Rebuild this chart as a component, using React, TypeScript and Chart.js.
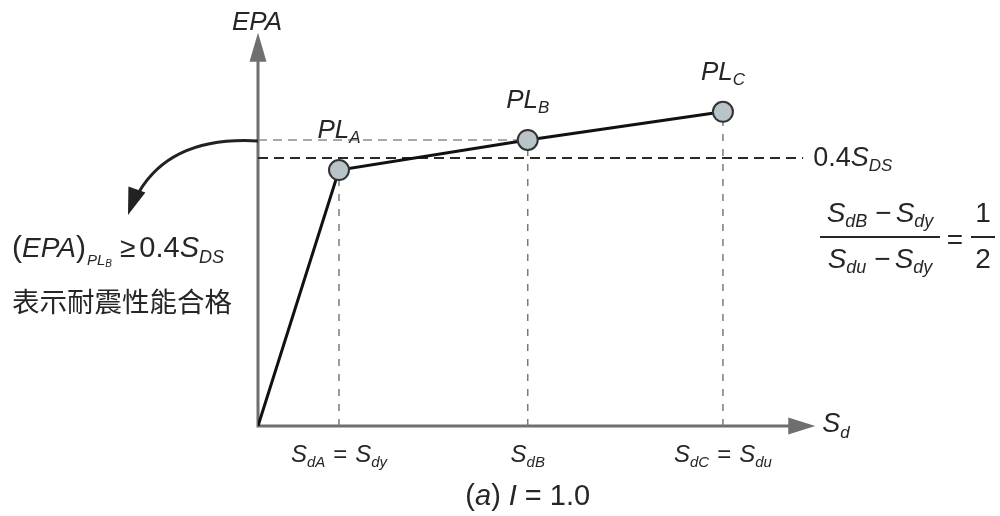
import React, { useEffect, useRef } from 'react';
import { Chart, registerables } from 'chart.js';

Chart.register(...registerables);

// ---------- data ----------
const SD_VALUES = [0, 1, 3.33, 5.74];          // spectral displacement (origin, PL_A, PL_B, PL_C)
const EPA_VALUES = [0, 0.382, 0.427, 0.469];   // EPA at each point
const PL_NAMES = ['', 'A', 'B', 'C'];          // performance level labels
const DS_LEVEL = 0.4;                          // 0.4 S_DS threshold
const DS_LINE_END = 6.73;
const X_AXIS_END = 6.88;
const Y_AXIS_END = 0.587;
const X_TICK_SUBS: (string | null)[][] = [['dA', 'dy'], ['dB', null], ['dC', 'du']];

const FONT = '"Liberation Sans", Arial, Helvetica, sans-serif';
const CJK = '"Noto Sans CJK TC", "Noto Sans CJK SC", sans-serif';
const TEXT = '#262626';

type Seg = { t: string; s: number; i?: boolean; dy?: number; g?: number; f?: string };

function fontOf(seg: Seg) {
  return `${seg.i ? 'italic ' : ''}${seg.s}px ${seg.f || FONT}`;
}

function richWidth(ctx: CanvasRenderingContext2D, segs: Seg[]) {
  let w = 0;
  for (const s of segs) {
    ctx.font = fontOf(s);
    w += (s.g || 0) + ctx.measureText(s.t).width;
  }
  return w;
}

function drawRich(ctx: CanvasRenderingContext2D, segs: Seg[], x: number, y: number, align: 'left' | 'center' = 'left') {
  const w = richWidth(ctx, segs);
  let cx = align === 'center' ? x - w / 2 : x;
  ctx.textAlign = 'left';
  ctx.textBaseline = 'alphabetic';
  for (const s of segs) {
    ctx.font = fontOf(s);
    cx += s.g || 0;
    ctx.fillText(s.t, cx, y + (s.dy || 0));
    cx += ctx.measureText(s.t).width;
  }
}

const diagramPlugin = {
  id: 'diagram',
  beforeDatasetsDraw(chart: any) {
    const { ctx, scales } = chart;
    const xs = scales.x, ys = scales.y;
    const x0 = xs.getPixelForValue(0);
    const y0 = ys.getPixelForValue(0);
    const yTop = ys.getPixelForValue(Y_AXIS_END);
    const xEnd = xs.getPixelForValue(X_AXIS_END);
    ctx.save();
    ctx.strokeStyle = '#6f6f6f';
    ctx.fillStyle = '#6f6f6f';
    ctx.lineWidth = 3;
    ctx.beginPath();
    ctx.moveTo(x0, y0 + 1.5);
    ctx.lineTo(x0, yTop + 24);
    ctx.moveTo(x0 - 1.5, y0);
    ctx.lineTo(xEnd - 22, y0);
    ctx.stroke();
    // arrow heads
    ctx.beginPath();
    ctx.moveTo(x0, yTop);
    ctx.lineTo(x0 - 8.5, yTop + 29);
    ctx.lineTo(x0 + 8.5, yTop + 29);
    ctx.closePath();
    ctx.fill();
    ctx.beginPath();
    ctx.moveTo(xEnd, y0);
    ctx.lineTo(xEnd - 27, y0 - 8.5);
    ctx.lineTo(xEnd - 27, y0 + 8.5);
    ctx.closePath();
    ctx.fill();
    ctx.restore();
  },
  afterDatasetsDraw(chart: any) {
    const { ctx, scales } = chart;
    const xs = scales.x, ys = scales.y;
    const x0 = xs.getPixelForValue(0);
    const y0 = ys.getPixelForValue(0);
    const yTop = ys.getPixelForValue(Y_AXIS_END);
    const xEnd = xs.getPixelForValue(X_AXIS_END);
    ctx.save();
    ctx.fillStyle = TEXT;

    // axis titles
    drawRich(ctx, [{ t: 'EPA', s: 26, i: true }], x0 - 1, yTop - 3, 'center');
    drawRich(ctx, [{ t: 'S', s: 27, i: true }, { t: 'd', s: 17, i: true, dy: 6 }], xEnd + 7, y0 + 6);

    // point labels
    for (let k = 1; k < SD_VALUES.length; k++) {
      const px = xs.getPixelForValue(SD_VALUES[k]);
      const py = ys.getPixelForValue(EPA_VALUES[k]);
      drawRich(ctx, [{ t: 'PL', s: 26, i: true }, { t: PL_NAMES[k], s: 17, i: true, dy: 5 }], px, py - 32, 'center');
    }

    // x tick labels
    X_TICK_SUBS.forEach((subs, k) => {
      const px = xs.getPixelForValue(SD_VALUES[k + 1]);
      const segs: Seg[] = [{ t: 'S', s: 24, i: true }, { t: subs[0] as string, s: 15, i: true, dy: 5 }];
      if (subs[1]) {
        segs.push({ t: '=', s: 24, g: 8 }, { t: 'S', s: 24, i: true, g: 8 }, { t: subs[1] as string, s: 15, i: true, dy: 5 });
      }
      drawRich(ctx, segs, px, y0 + 36, 'center');
    });

    // caption
    drawRich(ctx, [
      { t: '(', s: 29 }, { t: 'a', s: 29, i: true }, { t: ')', s: 29 },
      { t: 'I', s: 29, i: true, g: 8 }, { t: '=', s: 29, g: 8 }, { t: '1.0', s: 29, g: 8 },
    ], xs.getPixelForValue(SD_VALUES[2]), y0 + 79, 'center');

    // threshold label
    const yDs = ys.getPixelForValue(DS_LEVEL);
    const xDsEnd = xs.getPixelForValue(DS_LINE_END);
    drawRich(ctx, [{ t: '0.4', s: 27 }, { t: 'S', s: 27, i: true }, { t: 'DS', s: 17, i: true, dy: 5 }], xDsEnd + 10, yDs + 8);

    // ratio formula
    const fx = 880, bw = 120;
    drawRich(ctx, [
      { t: 'S', s: 28, i: true }, { t: 'dB', s: 18, i: true, dy: 5 },
      { t: '\u2212', s: 28, g: 8 }, { t: 'S', s: 28, i: true, g: 4 }, { t: 'dy', s: 18, i: true, dy: 5 },
    ], fx, 222, 'center');
    drawRich(ctx, [
      { t: 'S', s: 28, i: true }, { t: 'du', s: 18, i: true, dy: 5 },
      { t: '\u2212', s: 28, g: 8 }, { t: 'S', s: 28, i: true, g: 4 }, { t: 'dy', s: 18, i: true, dy: 5 },
    ], fx, 268, 'center');
    ctx.fillRect(fx - bw / 2, 236, bw, 2);
    drawRich(ctx, [{ t: '=', s: 28 }], 955, 249, 'center');
    drawRich(ctx, [{ t: '1', s: 28 }], 983, 222, 'center');
    ctx.fillRect(971, 236, 24, 2);
    drawRich(ctx, [{ t: '2', s: 28 }], 983, 268, 'center');

    // left statement
    drawRich(ctx, [
      { t: '(', s: 30 }, { t: 'EPA', s: 28, i: true }, { t: ')', s: 30 },
      { t: 'PL', s: 15, i: true, dy: 8, g: 1 }, { t: 'B', s: 10, i: true, dy: 10 },
      { t: '\u2265', s: 28, g: 8 }, { t: '0.4', s: 29, g: 4 }, { t: 'S', s: 29, i: true }, { t: 'DS', s: 18, i: true, dy: 6 },
    ], 12, 257);
    ctx.font = `27.5px ${CJK}`;
    ctx.fillText('表示耐震性能合格', 12, 312);

    // curved arrow from PL_B level
    const ySt = ys.getPixelForValue(EPA_VALUES[2]);
    ctx.strokeStyle = '#222';
    ctx.fillStyle = '#222';
    ctx.lineWidth = 3;
    ctx.beginPath();
    ctx.moveTo(x0, ySt + 1);
    ctx.quadraticCurveTo(x0 - 86, ySt - 4, x0 - 119, ySt + 52);
    ctx.stroke();
    const tip = { x: x0 - 130, y: ySt + 75 };
    const d = { x: -0.33, y: 0.944 };
    const p = { x: 0.944, y: 0.33 };
    const bx = tip.x - 27 * d.x, by = tip.y - 27 * d.y;
    ctx.beginPath();
    ctx.moveTo(tip.x, tip.y);
    ctx.lineTo(bx + 9 * p.x, by + 9 * p.y);
    ctx.lineTo(bx - 9 * p.x, by - 9 * p.y);
    ctx.closePath();
    ctx.fill();

    ctx.restore();
  },
};

export default function App() {
  const ref = useRef<HTMLCanvasElement>(null);
  useEffect(() => {
    if (!ref.current) return;
    const mainData = SD_VALUES.map((x, k) => ({ x, y: EPA_VALUES[k] }));
    const verticals = SD_VALUES.slice(1).map((x, k) => ({
      data: [{ x, y: 0 }, { x, y: EPA_VALUES[k + 1] }],
      showLine: true,
      borderColor: '#7a7a7a',
      borderWidth: 1.5,
      borderDash: [7, 8],
      pointRadius: 0,
    }));
    const chart = new Chart(ref.current, {
      type: 'scatter',
      data: {
        datasets: [
          {
            data: mainData,
            showLine: true,
            borderColor: '#111111',
            borderWidth: 3,
            pointRadius: SD_VALUES.map((_, k) => (k === 0 ? 0 : 10)),
            pointBackgroundColor: '#b8c4c9',
            pointBorderColor: '#333333',
            pointBorderWidth: 2,
          },
          {
            data: [{ x: 0, y: DS_LEVEL }, { x: DS_LINE_END, y: DS_LEVEL }],
            showLine: true,
            borderColor: '#2a2a2a',
            borderWidth: 2,
            borderDash: [10, 6],
            pointRadius: 0,
          },
          {
            data: [{ x: 0, y: EPA_VALUES[2] }, { x: SD_VALUES[2], y: EPA_VALUES[2] }],
            showLine: true,
            borderColor: '#8c8c8c',
            borderWidth: 1.5,
            borderDash: [9, 6],
            pointRadius: 0,
          },
          ...verticals,
        ] as any,
      },
      options: {
        animation: false,
        responsive: false,
        events: [],
        layout: { padding: { left: 258, right: 13, top: 24, bottom: 90 } },
        scales: {
          x: { type: 'linear', min: 0, max: 9, display: false },
          y: { type: 'linear', min: 0, max: 0.6, display: false },
        },
        plugins: { legend: { display: false }, tooltip: { enabled: false } },
      } as any,
      plugins: [diagramPlugin],
    });
    return () => chart.destroy();
  }, []);
  return (
    <div style={{ position: 'absolute', left: 0, top: 0, width: 1000, height: 516, background: '#fff' }}>
      <canvas ref={ref} width={1000} height={516} style={{ display: 'block' }} />
    </div>
  );
}
